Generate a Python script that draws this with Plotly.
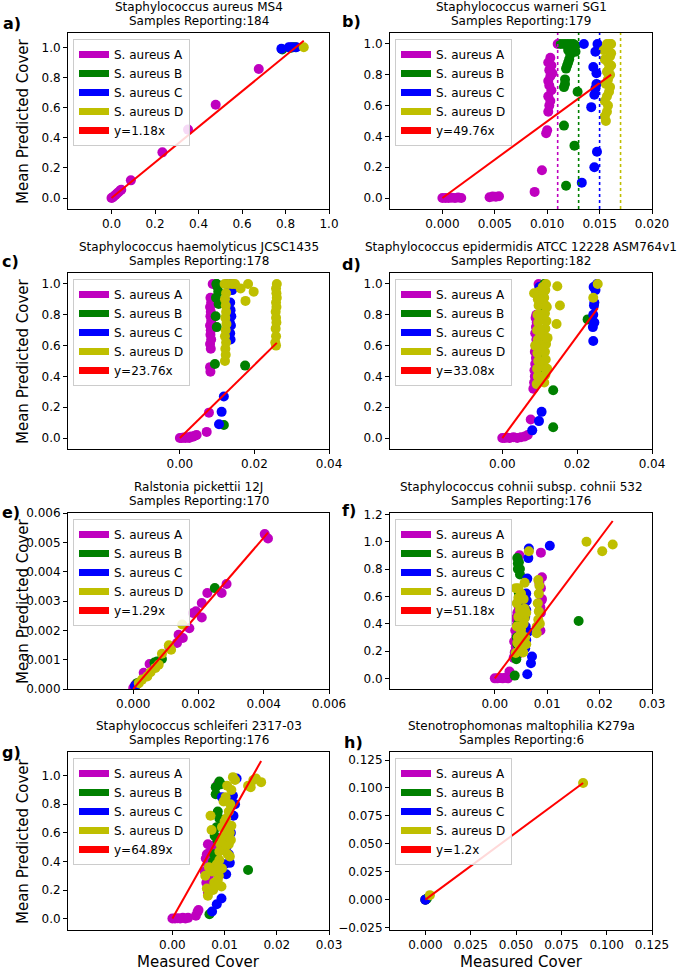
import plotly.graph_objects as go
from plotly.subplots import make_subplots

# ---------------- data ----------------
SERIES = ["S. aureus A", "S. aureus B", "S. aureus C", "S. aureus D"]
TITLES = ["Staphylococcus aureus MS4", "Staphylococcus warneri SG1",
          "Staphylococcus haemolyticus JCSC1435", "Staphylococcus epidermidis ATCC 12228 ASM764v1",
          "Ralstonia pickettii 12J", "Staphylococcus cohnii subsp. cohnii 532",
          "Staphylococcus schleiferi 2317-03", "Stenotrophomonas maltophilia K279a"]
SAMPLES = [184, 179, 178, 182, 170, 176, 176, 6]
SLOPES = [1.18, 49.76, 23.76, 33.08, 1.29, 51.18, 64.89, 1.2]
LETTERS = ["a)", "b)", "c)", "d)", "e)", "f)", "g)", "h)"]
B_THRESHOLDS = [0.011, 0.013, 0.015, 0.017]

# panel a
aA_x = [0.0, 0.005, 0.01, 0.018, 0.025, 0.032, 0.04, 0.045, 0.089, 0.234, 0.352, 0.479, 0.677, 0.823]
aA_y = [0.0, 0.004, 0.01, 0.02, 0.03, 0.038, 0.05, 0.055, 0.117, 0.303, 0.454, 0.619, 0.856, 1.0]
aB_x = [0.785, 0.822, 0.835, 0.845]
aB_y = [0.985, 0.995, 1.0, 1.0]
aC_x = [0.781, 0.815, 0.83, 0.85]
aC_y = [0.99, 1.0, 1.0, 1.0]
aD_x = [0.884]
aD_y = [1.0]

# panel b
bA_x = [0.0, 0.0003, 0.0006, 0.0009, 0.0012, 0.0015, 0.0018, 0.0045, 0.0048, 0.0051, 0.0054, 0.0088, 0.0095,
        0.0099, 0.0100, 0.0101, 0.0102, 0.0103, 0.0101, 0.0104, 0.0102, 0.0101, 0.0103, 0.0105, 0.0102, 0.0104,
        0.0101, 0.0103, 0.0110]
bA_y = [0.0, 0.0, 0.0, 0.002, 0.0, 0.003, 0.0, 0.005, 0.01, 0.008, 0.012, 0.04, 0.18, 0.42, 0.44, 0.56, 0.6,
        0.63, 0.66, 0.7, 0.73, 0.76, 0.79, 0.81, 0.83, 0.86, 0.88, 0.91, 1.0]
bB_x = [0.0118, 0.0126, 0.0116, 0.0129, 0.0116, 0.0117, 0.0117, 0.0118, 0.0119, 0.0120, 0.0121, 0.0122, 0.0120,
        0.0123, 0.0127, 0.0113, 0.0116, 0.0119, 0.0122, 0.0125, 0.0127]
bB_y = [0.08, 0.34, 0.47, 0.69, 0.72, 0.74, 0.77, 0.84, 0.86, 0.88, 0.90, 0.93, 0.96, 0.98, 0.95, 1.0, 1.0, 1.0,
        1.0, 1.0, 0.99]
bC_x = [0.0133, 0.0145, 0.01475, 0.0142, 0.0145, 0.0146, 0.0147, 0.0144, 0.0147, 0.0135, 0.0148, 0.0146]
bC_y = [0.10, 0.20, 0.30, 0.59, 0.67, 0.71, 0.74, 0.85, 0.81, 1.0, 1.0, 0.95]
bD_x = [0.0156, 0.0155, 0.0157, 0.0158, 0.0155, 0.0157, 0.0159, 0.0160, 0.0156, 0.0158, 0.0160, 0.0157, 0.0159,
        0.0161, 0.0158, 0.0155, 0.0160, 0.0161, 0.0154, 0.0158, 0.0161, 0.0160, 0.0157]
bD_y = [0.50, 0.53, 0.56, 0.60, 0.63, 0.66, 0.69, 0.72, 0.74, 0.77, 0.80, 0.82, 0.84, 0.86, 0.88, 0.90, 0.92,
        0.94, 0.96, 0.98, 1.0, 1.0, 1.0]

# panel c
cA_x = [0.0, 0.0005, 0.001, 0.0015, 0.002, 0.0025, 0.003, 0.0035, 0.004, 0.0045, 0.0072, 0.0078, 0.0082, 0.0081,
        0.0083, 0.0081, 0.0084, 0.0082, 0.0083, 0.0081, 0.0084, 0.0082, 0.0083, 0.0081, 0.0084, 0.0082, 0.0088]
cA_y = [0.0, 0.0, 0.003, 0.0, 0.005, 0.0, 0.01, 0.008, 0.015, 0.02, 0.04, 0.165, 0.43, 0.46, 0.58, 0.61, 0.64,
        0.67, 0.70, 0.73, 0.76, 0.79, 0.82, 0.85, 0.88, 0.91, 1.0]
cB_x = [0.0118, 0.0094, 0.0175, 0.0099, 0.0096, 0.0104, 0.0097, 0.0103, 0.0101, 0.0099, 0.0098]
cB_y = [0.085, 0.48, 0.47, 0.72, 0.79, 0.87, 0.91, 0.95, 0.98, 1.0, 1.0]
cC_x = [0.0105, 0.0112, 0.0118, 0.0136, 0.0135, 0.0137, 0.0134, 0.0138, 0.0136, 0.0135, 0.0140, 0.0125, 0.0132,
        0.0141]
cC_y = [0.09, 0.17, 0.27, 0.64, 0.68, 0.73, 0.75, 0.79, 0.83, 0.88, 0.96, 1.0, 1.0, 1.0]
cD_x = [0.0121, 0.0123, 0.0122, 0.0124, 0.0121, 0.0123, 0.0125, 0.0122, 0.0124, 0.0123, 0.0121, 0.0124, 0.0120,
        0.0130, 0.0140, 0.0148, 0.0163, 0.0176, 0.0183, 0.0198, 0.0256, 0.0258, 0.0257, 0.0259, 0.0258, 0.0257,
        0.0259, 0.0258, 0.0260, 0.0259, 0.0258, 0.0260, 0.0258]
cD_y = [0.50, 0.54, 0.58, 0.62, 0.66, 0.70, 0.74, 0.78, 0.82, 0.86, 0.90, 0.94, 1.0, 1.0, 1.0, 1.0, 0.97, 0.89,
        1.0, 0.95, 0.62, 0.66, 0.71, 0.75, 0.78, 0.82, 0.85, 0.88, 0.91, 0.94, 0.97, 1.0, 0.60]

# panel d
dA_x = [0.0, 0.0006, 0.0012, 0.002, 0.003, 0.004, 0.005, 0.006, 0.0068, 0.0076, 0.0083, 0.0085, 0.0087, 0.0086,
        0.0088, 0.0090, 0.0087, 0.0089, 0.0091, 0.0088, 0.0090, 0.0092, 0.0089, 0.0091, 0.0097]
dA_y = [0.0, 0.0, 0.003, 0.0, 0.006, 0.0, 0.005, 0.01, 0.02, 0.12, 0.32, 0.36, 0.40, 0.44, 0.48, 0.52, 0.56,
        0.60, 0.64, 0.68, 0.72, 0.75, 0.78, 0.80, 1.0]
dB_x = [0.0136, 0.0136, 0.0107, 0.0107, 0.0108, 0.0103, 0.0112, 0.0228, 0.0105, 0.0110]
dB_y = [0.07, 0.31, 0.41, 0.64, 0.82, 0.88, 1.0, 0.77, 0.55, 0.95]
dC_x = [0.0080, 0.0098, 0.0105, 0.0099, 0.0243, 0.0242, 0.0246, 0.0243, 0.0245, 0.0246, 0.0249, 0.0244, 0.0253]
dC_y = [0.05, 0.11, 0.17, 0.98, 0.63, 0.72, 0.75, 0.80, 0.86, 0.88, 0.96, 0.98, 1.0]
dD_x = [0.0092, 0.0095, 0.0093, 0.0096, 0.0094, 0.0097, 0.0095, 0.0093, 0.0096, 0.0094, 0.0097, 0.0095, 0.0098,
        0.0112, 0.0115, 0.0113, 0.0116, 0.0114, 0.0117, 0.0113, 0.0115, 0.0118, 0.0114, 0.0116, 0.0112, 0.0115,
        0.0117, 0.0104, 0.0106, 0.0108, 0.0100, 0.0102, 0.0104, 0.0101, 0.0103, 0.0100, 0.0120, 0.0121, 0.0119,
        0.0088, 0.0085, 0.0147, 0.0154, 0.0145, 0.0243, 0.0255]
dD_y = [0.35, 0.40, 0.45, 0.50, 0.55, 0.59, 0.64, 0.70, 0.75, 0.80, 0.86, 0.90, 0.95, 0.36, 0.41, 0.46, 0.51,
        0.56, 0.61, 0.66, 0.71, 0.76, 0.81, 0.86, 0.91, 0.96, 1.0, 0.93, 0.88, 0.98, 0.40, 0.50, 0.60, 0.70, 0.80,
        0.90, 0.45, 0.65, 0.85, 0.60, 0.94, 0.985, 0.86, 0.74, 0.91, 1.0]

# panel e
eA_x = [0.0, 0.00007, 0.00015, 0.00032, 0.0005, 0.0011, 0.00134, 0.00139, 0.00152, 0.00172, 0.00183, 0.00192,
        0.0021, 0.0021, 0.00227, 0.00271, 0.00286, 0.00403, 0.00413]
eA_y = [0.00003, 0.00015, 0.0002, 0.00055, 0.00085, 0.00145, 0.00157, 0.00185, 0.00174, 0.00207, 0.00259,
        0.00265, 0.00293, 0.00244, 0.00327, 0.00327, 0.00358, 0.00528, 0.00513]
eB_x = [0.00007, 0.00012, 0.00065, 0.00073, 0.00088, 0.0025]
eB_y = [0.00011, 0.0002, 0.0009, 0.00094, 0.00102, 0.00344]
eC_x = [0.00005]
eC_y = [0.0001]
eD_x = [0.00017, 0.00027, 0.00043, 0.00053, 0.00068, 0.00078, 0.00088, 0.00109, 0.00116, 0.0015]
eD_y = [0.0002, 0.00032, 0.00043, 0.00057, 0.00072, 0.00083, 0.0012, 0.00149, 0.00134, 0.0022]

# panel f
fA_x = [0.0, 0.0005, 0.001, 0.0015, 0.002, 0.0025, 0.0028, 0.0036, 0.0038, 0.0040, 0.0037, 0.0041, 0.0039,
        0.0042, 0.0040, 0.0043, 0.0046, 0.0047, 0.0088, 0.0090, 0.0088, 0.0089, 0.0088, 0.0087, 0.0048, 0.0044,
        0.0050, 0.0085, 0.0090, 0.0087, 0.0045]
fA_y = [0.0, 0.0, 0.003, 0.0, 0.005, 0.0, 0.05, 0.15, 0.19, 0.23, 0.27, 0.31, 0.35, 0.39, 0.44, 0.48, 0.52,
        0.90, 0.92, 0.74, 0.66, 0.57, 0.48, 0.35, 0.34, 0.42, 0.46, 0.70, 0.58, 0.52, 0.18]
fB_x = [0.0038, 0.0043, 0.0046, 0.0048, 0.0048, 0.0048, 0.0045, 0.0043, 0.0041, 0.0044, 0.0044, 0.0042, 0.0046,
        0.0040, 0.0160]
fB_y = [0.02, 0.88, 0.85, 0.80, 0.76, 0.54, 0.40, 0.25, 0.14, 0.84, 0.80, 0.30, 0.62, 0.18, 0.42]
fC_x = [0.0062, 0.0069, 0.0071, 0.0060, 0.0059, 0.0059, 0.0060, 0.0062, 0.0064, 0.0065, 0.0061, 0.0060, 0.0058,
        0.0063, 0.0058, 0.0105]
fC_y = [0.03, 0.11, 0.16, 0.28, 0.38, 0.56, 0.62, 0.73, 0.88, 0.95, 0.57, 0.50, 0.45, 0.34, 0.22, 0.97]
fD_x = [0.0040, 0.0045, 0.0057, 0.0057, 0.0051, 0.0048, 0.0040, 0.0054, 0.0057, 0.0050, 0.0044, 0.0045, 0.0050,
        0.0055, 0.0042, 0.0048, 0.0060, 0.0045, 0.0055, 0.0042, 0.0050, 0.0058, 0.0043, 0.0052, 0.0047, 0.0060,
        0.0083, 0.0084, 0.0082, 0.0084, 0.0083, 0.0080, 0.0085, 0.0086, 0.0080, 0.0065, 0.0175, 0.0205, 0.0225]
fD_y = [0.66, 0.59, 0.70, 0.44, 0.28, 0.23, 0.185, 0.19, 0.51, 0.36, 0.30, 0.66, 0.62, 0.58, 0.55, 0.50, 0.48,
        0.45, 0.40, 0.38, 0.33, 0.30, 0.26, 0.22, 0.20, 0.25, 0.72, 0.62, 0.55, 0.49, 0.43, 0.33, 0.68, 0.40, 0.38,
        0.93, 1.0, 0.93, 0.98]

# panel g
gA_x = [0.0, 0.0005, 0.001, 0.0015, 0.002, 0.0025, 0.003, 0.0045, 0.0048, 0.0050, 0.0068, 0.0065, 0.0062,
        0.0068, 0.0071, 0.0078, 0.0068, 0.0064, 0.0070, 0.0073, 0.0066, 0.0080, 0.0087]
gA_y = [0.0, 0.0, 0.003, 0.0, 0.005, 0.0, 0.005, 0.02, 0.045, 0.06, 0.18, 0.25, 0.33, 0.38, 0.46, 0.51, 0.52,
        0.42, 0.30, 0.22, 0.45, 0.48, 0.94]
gB_x = [0.0071, 0.0145, 0.0078, 0.0081, 0.0085, 0.0087, 0.0083, 0.0083, 0.0090, 0.0093, 0.0090, 0.0086, 0.0080]
gB_y = [0.03, 0.34, 0.40, 0.58, 0.64, 0.75, 0.87, 0.92, 0.96, 0.94, 0.70, 0.55, 0.45]
gC_x = [0.0076, 0.0085, 0.0094, 0.0103, 0.0110, 0.0108, 0.0105, 0.0117, 0.0116, 0.0095, 0.0112, 0.0100, 0.0120,
        0.0123]
gC_y = [0.05, 0.10, 0.14, 0.31, 0.39, 0.45, 0.51, 0.72, 0.86, 0.85, 0.60, 0.38, 0.80, 0.98]
gD_x = [0.0068, 0.0066, 0.0063, 0.0073, 0.0075, 0.0080, 0.0089, 0.0090, 0.0095, 0.0100, 0.0102, 0.0105, 0.0100,
        0.0108, 0.0111, 0.0098, 0.0105, 0.0120, 0.0145, 0.0155, 0.0170, 0.0110, 0.0087, 0.0084, 0.0110, 0.0113,
        0.0094, 0.0092, 0.0096, 0.0103, 0.0095, 0.0108, 0.0112, 0.0106, 0.0090, 0.0085, 0.0076, 0.0070, 0.0102,
        0.0113, 0.0116, 0.0150, 0.0160, 0.0078]
gD_y = [0.16, 0.21, 0.30, 0.72, 0.62, 0.25, 0.30, 0.41, 0.35, 0.48, 0.58, 0.62, 0.68, 0.75, 0.80, 0.82, 0.93,
        0.97, 0.93, 0.97, 0.955, 0.435, 0.27, 0.34, 0.60, 0.65, 0.225, 0.52, 0.56, 0.70, 0.64, 0.52, 0.55, 0.45,
        0.47, 0.38, 0.33, 0.36, 0.85, 0.90, 0.99, 0.92, 0.98, 0.20]

# panel h
hA_x = [0.0]
hA_y = [0.0]
hB_x = [0.0, 0.0008]
hB_y = [0.0, 0.0008]
hC_x = [0.0]
hC_y = [0.0]
hD_x = [0.0025, 0.087]
hD_y = [0.004, 0.1045]

PANEL_X = [[aA_x, aB_x, aC_x, aD_x], [bA_x, bB_x, bC_x, bD_x], [cA_x, cB_x, cC_x, cD_x],
           [dA_x, dB_x, dC_x, dD_x], [eA_x, eB_x, eC_x, eD_x], [fA_x, fB_x, fC_x, fD_x],
           [gA_x, gB_x, gC_x, gD_x], [hA_x, hB_x, hC_x, hD_x]]
PANEL_Y = [[aA_y, aB_y, aC_y, aD_y], [bA_y, bB_y, bC_y, bD_y], [cA_y, cB_y, cC_y, cD_y],
           [dA_y, dB_y, dC_y, dD_y], [eA_y, eB_y, eC_y, eD_y], [fA_y, fB_y, fC_y, fD_y],
           [gA_y, gB_y, gC_y, gD_y], [hA_y, hB_y, hC_y, hD_y]]

# tick labels / axis ranges
X_TICKS = [[0.0, 0.2, 0.4, 0.6, 0.8, 1.0], [0.0, 0.005, 0.010, 0.015, 0.020], [0.0, 0.02, 0.04],
           [0.0, 0.02, 0.04], [0.0, 0.002, 0.004, 0.006], [0.0, 0.01, 0.02, 0.03], [0.0, 0.01, 0.02, 0.03],
           [0.0, 0.025, 0.05, 0.075, 0.1, 0.125]]
X_FMT = [".1f", ".3f", ".2f", ".2f", ".3f", ".2f", ".2f", ".3f"]
X_RANGE = [[-0.2, 1.0], [-0.005, 0.020], [-0.03, 0.04], [-0.03, 0.04], [-0.002, 0.006], [-0.02, 0.03],
           [-0.02, 0.03], [-0.0195, 0.125]]
Y_TICKS = [[0.0, 0.2, 0.4, 0.6, 0.8, 1.0]] * 4 + [[0.0, 0.001, 0.002, 0.003, 0.004, 0.005, 0.006],
           [0.0, 0.2, 0.4, 0.6, 0.8, 1.0, 1.2], [0.0, 0.2, 0.4, 0.6, 0.8, 1.0],
           [-0.025, 0.0, 0.025, 0.05, 0.075, 0.1, 0.125]]
Y_FMT = [".1f", ".1f", ".1f", ".1f", ".3f", ".1f", ".1f", ".3f"]
Y_RANGE = [[-0.073, 1.095], [-0.071, 1.071], [-0.071, 1.071], [-0.071, 1.071], [0.0, 0.006],
           [-0.078, 1.21], [-0.080, 1.166], [-0.0272, 0.1322]]

# ---------------- style ----------------
W, H = 680, 972
COLORS = ["#bf00bf", "#008000", "#0000ff", "#bfbf00"]
FIT_COLOR = "#ff0000"
FONT = "DejaVu Sans"
COL_L = [68, 390]
COL_R = [329, 652]
ROW_T = [33, 273, 513, 752]
ROW_B = [209, 449, 689, 930]
LETTER_POS = [(1, 23), (340, 22), (0, 262), (340, 264), (0, 512), (340, 510), (0, 752), (342, 742)]


def px(x):
    return x / W


def py(y):
    return 1 - y / H


fig = make_subplots(rows=4, cols=2)
annotations = []
shapes = []
layout_upd = {}

for i in range(8):
    r, c = i // 2, i % 2
    legname = "legend" if i == 0 else f"legend{i + 1}"
    xs_all = [v for s in PANEL_X[i] for v in s]
    for k in range(4):
        fig.add_trace(go.Scatter(x=PANEL_X[i][k], y=PANEL_Y[i][k], mode="markers",
                                 marker=dict(color=COLORS[k], size=10, line=dict(width=0)),
                                 showlegend=False, hoverinfo="skip"), row=r + 1, col=c + 1)
    fx = [0.0, max(xs_all)]
    fy = [SLOPES[i] * v for v in fx]
    fig.add_trace(go.Scatter(x=fx, y=fy, mode="lines", line=dict(color=FIT_COLOR, width=2),
                             showlegend=False, hoverinfo="skip"), row=r + 1, col=c + 1)
    # legend entries
    labels = SERIES + [f"y={SLOPES[i]}x"]
    lcolors = COLORS + [FIT_COLOR]
    for k in range(5):
        fig.add_trace(go.Scatter(x=[None], y=[None], mode="lines", name=labels[k],
                                 line=dict(color=lcolors[k], width=7), legend=legname,
                                 showlegend=True), row=r + 1, col=c + 1)
    layout_upd[legname] = dict(x=px(COL_L[c] + 5), y=py(ROW_T[r] + 6), xanchor="left", yanchor="top",
                               bgcolor="rgba(255,255,255,0.85)", bordercolor="#cccccc", borderwidth=1,
                               font=dict(family=FONT, size=12, color="black"), traceorder="normal")

    xname = "xaxis" if i == 0 else f"xaxis{i + 1}"
    yname = "yaxis" if i == 0 else f"yaxis{i + 1}"
    common = dict(showline=True, mirror=True, linecolor="black", linewidth=1, ticks="outside", ticklen=4,
                  tickcolor="black", showgrid=False, zeroline=False, automargin=False,
                  tickfont=dict(family=FONT, size=12, color="black"))
    layout_upd[xname] = dict(domain=[px(COL_L[c]), px(COL_R[c])], range=X_RANGE[i], tickvals=X_TICKS[i],
                             tickformat=X_FMT[i], **common)
    layout_upd[yname] = dict(domain=[py(ROW_B[r]), py(ROW_T[r])], range=Y_RANGE[i], tickvals=Y_TICKS[i],
                             tickformat=Y_FMT[i], **common)

    cx = px((COL_L[c] + COL_R[c]) / 2)
    annotations.append(dict(text=TITLES[i], x=cx, y=py(ROW_T[r] - 26), xref="paper", yref="paper",
                            showarrow=False, xanchor="center", yanchor="middle",
                            font=dict(family=FONT, size=12, color="black")))
    annotations.append(dict(text=f"Samples Reporting:{SAMPLES[i]}", x=cx, y=py(ROW_T[r] - 12), xref="paper",
                            yref="paper", showarrow=False, xanchor="center", yanchor="middle",
                            font=dict(family=FONT, size=12, color="black")))
    lx, ly = LETTER_POS[i]
    annotations.append(dict(text=f"<b>{LETTERS[i]}</b>", x=px(lx), y=py(ly), xref="paper", yref="paper",
                            showarrow=False, xanchor="left", yanchor="middle",
                            font=dict(family=FONT, size=16, color="black")))
    if c == 0:
        annotations.append(dict(text="Mean Predicted Cover", x=px(23), y=py((ROW_T[r] + ROW_B[r]) / 2),
                                xref="paper", yref="paper", showarrow=False, textangle=-90,
                                xanchor="center", yanchor="middle",
                                font=dict(family=FONT, size=15, color="black")))
    if r == 3:
        annotations.append(dict(text="Measured Cover", x=cx, y=py(962), xref="paper", yref="paper",
                                showarrow=False, xanchor="center", yanchor="middle",
                                font=dict(family=FONT, size=15, color="black")))

# threshold lines in panel b
for k, t in enumerate(B_THRESHOLDS):
    shapes.append(dict(type="line", xref="x2", yref="y2 domain", x0=t, x1=t, y0=0, y1=1,
                       line=dict(color=COLORS[k], width=1.6, dash="dot")))

fig.update_layout(**layout_upd)
fig.update_layout(width=W, height=H, margin=dict(l=0, r=0, t=0, b=0, autoexpand=False),
                  plot_bgcolor="white", paper_bgcolor="white", annotations=annotations, shapes=shapes,
                  font=dict(family=FONT, color="black"))
fig.write_html("out.html", config={"displayModeBar": False},
               post_script="document.body.style.margin='0';document.body.style.overflow='hidden';")
